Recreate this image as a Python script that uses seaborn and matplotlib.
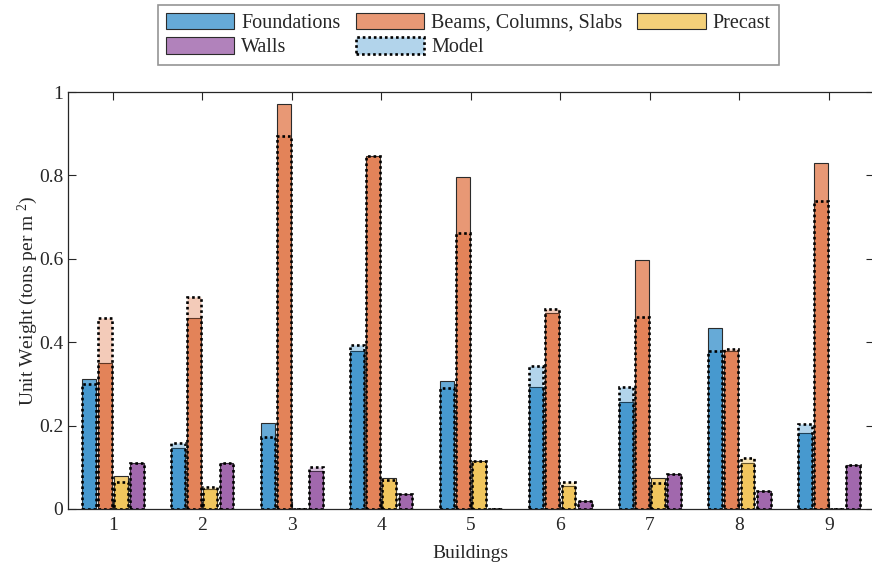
import numpy as np
import pandas as pd
import matplotlib
matplotlib.use("Agg")
import matplotlib.pyplot as plt
from matplotlib.patches import Patch
from matplotlib.colors import to_rgba
from matplotlib.ticker import FuncFormatter
import seaborn as sns

# --- data -------------------------------------------------------------
buildings = ["1", "2", "3", "4", "5", "6", "7", "8", "9"]
components = ["Foundations", "Beams, Columns, Slabs", "Precast", "Walls"]

# measured unit weights (tons per m^2)
foundations = [0.311, 0.147, 0.207, 0.380, 0.307, 0.292, 0.257, 0.433, 0.182]
beams = [0.351, 0.459, 0.971, 0.846, 0.795, 0.469, 0.597, 0.380, 0.829]
precast = [0.078, 0.047, 0.0, 0.074, 0.116, 0.055, 0.074, 0.111, 0.0]
walls = [0.111, 0.110, 0.090, 0.036, 0.0, 0.018, 0.083, 0.042, 0.106]

# model predictions (tons per m^2)
foundations_model = [0.300, 0.159, 0.173, 0.393, 0.289, 0.343, 0.293, 0.380, 0.203]
beams_model = [0.457, 0.508, 0.894, 0.846, 0.661, 0.479, 0.460, 0.383, 0.739]
precast_model = [0.065, 0.053, 0.0, 0.070, 0.116, 0.064, 0.063, 0.121, 0.0]
walls_model = [0.111, 0.110, 0.100, 0.036, 0.0, 0.018, 0.083, 0.042, 0.105]

colors = ["#0072BD", "#D95319", "#EDB120", "#7E2F8E"]

measured = [foundations, beams, precast, walls]
modelled = [foundations_model, beams_model, precast_model, walls_model]


def long_table(series):
    rows = []
    for comp, vals in zip(components, series):
        for b, v in zip(buildings, vals):
            rows.append({"Building": b, "Component": comp, "Weight": v})
    return pd.DataFrame(rows)


df_meas = long_table(measured)
df_model = long_table(modelled)

# --- style ------------------------------------------------------------
sns.set_theme(style="white")
plt.rcParams["font.family"] = ["Liberation Serif", "DejaVu Serif"]
plt.rcParams["mathtext.fontset"] = "custom"
plt.rcParams["mathtext.rm"] = "Liberation Serif"
plt.rcParams["mathtext.it"] = "Liberation Serif"

fig = plt.figure(figsize=(8.72, 5.68), dpi=100)
ax_left, ax_w = 0.078, 0.924
ax = fig.add_axes([ax_left, 0.104, ax_w, 0.734])

palette = dict(zip(components, colors))
bar_kw = dict(x="Building", y="Weight", hue="Component", hue_order=components,
              order=buildings, palette=palette, width=0.72, gap=0.14,
              errorbar=None, legend=False, ax=ax)

# measured bars
sns.barplot(data=df_meas, **bar_kw)
n_meas = len(ax.containers)
for cont, col in zip(ax.containers[:n_meas], colors):
    for p in cont:
        p.set_facecolor(to_rgba(col, 0.6))
        p.set_edgecolor("#2b2b2b")
        p.set_linewidth(0.8)

# model bars drawn on top, translucent with dotted outline
sns.barplot(data=df_model, **bar_kw)
for cont, col in zip(ax.containers[n_meas:], colors):
    for p in cont:
        p.set_facecolor(to_rgba(col, 0.3))
        p.set_edgecolor("black")
        p.set_linewidth(1.9)
        p.set_linestyle((0, (1, 1.1)))
        p.set_zorder(3)

# --- axes -------------------------------------------------------------
ax.set_xlim(-0.5, 8.5)
ax.set_ylim(0, 1)
ax.set_yticks([0, 0.2, 0.4, 0.6, 0.8, 1.0])
ax.yaxis.set_major_formatter(FuncFormatter(lambda v, _: f"{v:g}"))
ax.set_xlabel("Buildings", fontsize=14, color="#262626", labelpad=8)
ax.set_ylabel("Unit Weight (tons per m $^{2}$)", fontsize=14, color="#262626", labelpad=-1)
ax.tick_params(axis="both", which="major", direction="in", length=5.5, width=0.8,
               labelsize=14, colors="#262626", top=True, right=True,
               bottom=True, left=True)
ax.tick_params(axis="x", pad=6)
for s in ax.spines.values():
    s.set_visible(True)
    s.set_color("#262626")
    s.set_linewidth(0.9)

# --- legend -----------------------------------------------------------
h = {c: Patch(facecolor=to_rgba(col, 0.6), edgecolor="#2b2b2b", linewidth=0.8)
     for c, col in zip(components, colors)}
h_model = Patch(facecolor=to_rgba(colors[0], 0.3), edgecolor="black",
                linewidth=1.9, linestyle=(0, (1, 1.1)))
handles = [h["Foundations"], h["Walls"], h["Beams, Columns, Slabs"], h_model, h["Precast"]]
labels = ["Foundations", "Walls", "Beams, Columns, Slabs", "Model", "Precast"]
leg = fig.legend(handles, labels, loc="upper center",
                 bbox_to_anchor=(ax_left + ax_w / 2 - 0.003, 0.992),
                 ncol=3, fontsize=14.5, frameon=True, fancybox=False,
                 handlelength=3.4, handleheight=0.9, handletextpad=0.35,
                 columnspacing=0.75, labelspacing=0.2, borderpad=0.4,
                 borderaxespad=0.0)
leg.get_frame().set_edgecolor("#7a7a7a")
leg.get_frame().set_linewidth(1.2)

fig.savefig("out.png", dpi=100)
